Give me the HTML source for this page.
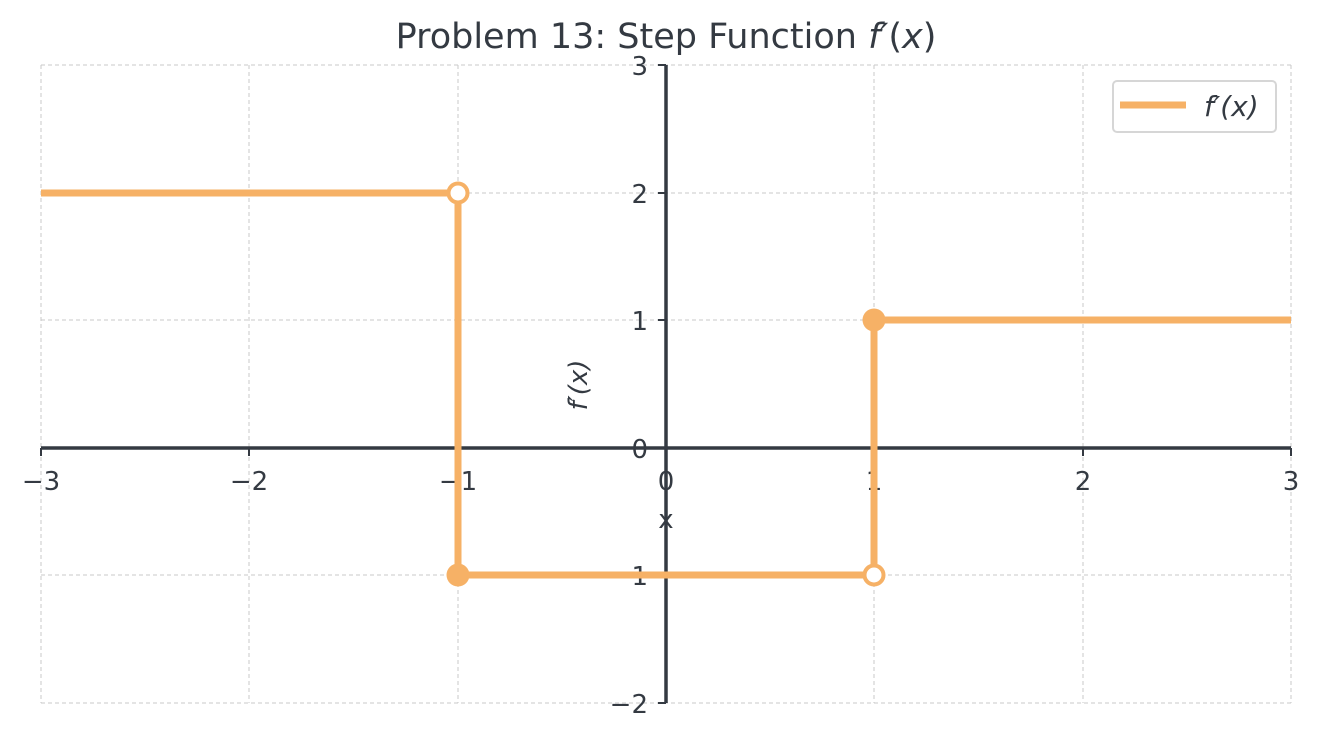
<!DOCTYPE html>
<html><head><style>body{margin:0;background:#fff}svg{display:block}text{font-family:"DejaVu Sans","Liberation Sans",sans-serif;fill:#343a42}</style></head>
<body>
<svg width="1319" height="739" viewBox="0 0 1319 739" xmlns="http://www.w3.org/2000/svg">
<g stroke="#c8c8c8" stroke-width="1" stroke-dasharray="4,3">
<line x1="41" y1="65" x2="41" y2="703"/><line x1="249" y1="65" x2="249" y2="703"/><line x1="458" y1="65" x2="458" y2="703"/><line x1="874" y1="65" x2="874" y2="703"/><line x1="1083" y1="65" x2="1083" y2="703"/><line x1="1291" y1="65" x2="1291" y2="703"/>
<line x1="41" y1="65" x2="1291" y2="65"/><line x1="41" y1="193" x2="1291" y2="193"/><line x1="41" y1="320" x2="1291" y2="320"/><line x1="41" y1="575" x2="1291" y2="575"/><line x1="41" y1="703" x2="1291" y2="703"/>
</g>
<g stroke="#343a42" stroke-width="3.5">
<line x1="41" y1="448" x2="1291" y2="448"/><line x1="666" y1="65" x2="666" y2="703"/>
</g>
<g stroke="#343a42" stroke-width="2">
<line x1="41" y1="448" x2="41" y2="456"/><line x1="249" y1="448" x2="249" y2="456"/><line x1="458" y1="448" x2="458" y2="456"/><line x1="666" y1="448" x2="666" y2="456"/><line x1="874" y1="448" x2="874" y2="456"/><line x1="1083" y1="448" x2="1083" y2="456"/><line x1="1291" y1="448" x2="1291" y2="456"/>
<line x1="658" y1="65" x2="666" y2="65"/><line x1="658" y1="193" x2="666" y2="193"/><line x1="658" y1="320" x2="666" y2="320"/><line x1="658" y1="448" x2="666" y2="448"/><line x1="658" y1="575" x2="666" y2="575"/><line x1="658" y1="703" x2="666" y2="703"/>
</g>
<g font-size="26" text-anchor="middle">
<text x="41" y="490">−3</text><text x="249" y="490">−2</text><text x="458" y="490">−1</text><text x="666" y="490">0</text><text x="874" y="490">1</text><text x="1083" y="490">2</text><text x="1291" y="490">3</text>
</g>
<g font-size="26" text-anchor="end">
<text x="648" y="75">3</text><text x="648" y="203">2</text><text x="648" y="330">1</text><text x="648" y="458">0</text><text x="648" y="585">−1</text><text x="648" y="713">−2</text>
</g>
<text x="666" y="528" font-size="26" text-anchor="middle">x</text>
<text transform="translate(587,385) rotate(-90)" font-size="26" text-anchor="middle" font-style="italic">f′(x)</text>
<text x="666" y="48" font-size="35" text-anchor="middle">Problem 13: Step Function <tspan font-style="italic">f′</tspan>(<tspan font-style="italic">x</tspan>)</text>
<g stroke="#f6b166" stroke-width="7" fill="none">
<line x1="41" y1="193" x2="458" y2="193"/><line x1="458" y1="193" x2="458" y2="575"/><line x1="458" y1="575" x2="874" y2="575"/><line x1="874" y1="575" x2="874" y2="320"/><line x1="874" y1="320" x2="1291" y2="320"/>
</g>
<circle cx="458" cy="193" r="9.5" fill="#fff" stroke="#f6b166" stroke-width="4"/>
<circle cx="458" cy="575" r="11.5" fill="#f6b166"/>
<circle cx="874" cy="320" r="11.5" fill="#f6b166"/>
<circle cx="874" cy="575" r="9.5" fill="#fff" stroke="#f6b166" stroke-width="4"/>
<rect x="1113" y="81" width="163" height="51" rx="4" fill="#fff" fill-opacity="0.9" stroke="#d6d6d6" stroke-width="2"/>
<line x1="1120" y1="105" x2="1186" y2="105" stroke="#f6b166" stroke-width="7"/>
<text x="1204" y="116" font-size="28" font-style="italic">f′(x)</text>
</svg>
</body></html>
